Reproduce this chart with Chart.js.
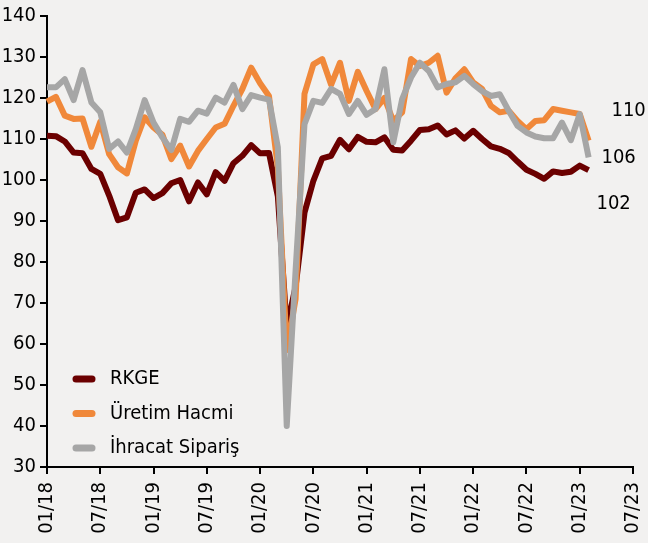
<!DOCTYPE html>
<html>
<head>
<meta charset="utf-8">
<script src="https://cdn.jsdelivr.net/npm/chart.js@4.4.1/dist/chart.umd.min.js"></script>
<style>
  body { margin: 0; background: #f2f1f0; }
  canvas { display: block; }
</style>
</head>
<body>
<canvas id="myChart" width="648" height="543"></canvas>
<script>
var seriesNames = ["RKGE", "Üretim Hacmi", "İhracat Sipariş"];
var seriesColors = ["#6b0000", "#f0883a", "#a6a6a6"];

// monthly values, 01/18 .. 02/23
var rkge = [110.8, 110.7, 109.4, 106.7, 106.5, 102.7, 101.5, 96.2, 90.2, 90.9, 96.9, 97.7,
  95.6, 96.8, 99.2, 100, 94.8, 99.4, 96.5, 101.9, 99.8, 104.1, 105.9, 108.5,
  106.5, 106.6, 96, 64, 74, 92, 99.8, 105.3, 105.9, 109.8, 107.5, 110.5,
  109.3, 109.2, 110.4, 107.4, 107.2, 109.6, 112.2, 112.4, 113.3, 111.1, 112.1, 110.1,
  112, 110, 108.2, 107.6, 106.6, 104.5, 102.5, 101.5, 100.3, 102.1, 101.7, 102,
  103.5, 102.4];
var uretim = [119.1, 120.3, 115.7, 114.9, 115, 108.1, 114.2, 106.3, 103.1, 101.6, 109.6, 115.3,
  112.8, 111, 105.1, 108.4, 103.3, 107.1, 110, 112.8, 113.7, 118.1, 122.2, 127.4,
  123.6, 120.5, 103, 58.5, 71, 121, 128.2, 129.5, 123.2, 128.6, 119.3, 126.4,
  121.7, 117.3, 120, 114.4, 116.5, 129.5, 127.8, 128.6, 130.3, 121.3, 124.8, 127,
  123.8, 122.2, 118.1, 116.5, 116.9, 114.4, 112.4, 114.4, 114.6, 117.3, 116.9, 116.5,
  116.1, 109.6];
var ihracat = [122.6, 122.6, 124.6, 119.5, 126.8, 118.9, 116.5, 107.6, 109.4, 106.7, 112.4, 119.5,
  114, 110.4, 107.3, 114.9, 114.2, 116.9, 116.2, 120.1, 118.9, 123.2, 117.3, 120.7,
  120.1, 119.6, 108, 40, 78, 113.6, 119.3, 118.8, 122.2, 121, 116.1, 119.3,
  115.9, 117.3, 127, 109.2, 119.7, 125, 128.6, 126.6, 122.6, 123.4, 123.8, 125.4,
  123.4, 121.7, 120.5, 120.9, 116.9, 113.2, 111.6, 110.6, 110.2, 110.2, 114, 109.7,
  116.1, 105.5];
var endLabels = ["102", "110", "106"];
var endOffsets = [[25, 34], [40, -30], [30, 0]];

var yTicks = { min: 30, max: 140, step: 10 };

var monthLabels = [];
for (let y = 18; y <= 23; y++) {
  for (let m = 1; m <= 12; m++) {
    if (y == 23 && m > 7) break;
    monthLabels.push((m < 10 ? "0" + m : "" + m) + "/" + y);
  }
}

var fontFam = "'DejaVu Sans Condensed', 'DejaVu Sans', sans-serif";

var extras = {
  id: "extras",
  afterDatasetsDraw(chart) {
    var ctx = chart.ctx, area = chart.chartArea;
    ctx.save();
    ctx.font = "20px " + fontFam;
    ctx.textBaseline = "middle";

    // legend inside the plot, bottom left
    seriesNames.forEach(function (name, i) {
      var y = area.bottom - 88 + i * 34.5;
      ctx.strokeStyle = seriesColors[i];
      ctx.lineWidth = 7;
      ctx.lineCap = "round";
      ctx.beginPath();
      ctx.moveTo(area.left + 29, y);
      ctx.lineTo(area.left + 45, y);
      ctx.stroke();
      ctx.fillStyle = "#000";
      ctx.textAlign = "left";
      ctx.fillText(name, area.left + 63, y);
    });

    // last value labels
    ctx.textAlign = "center";
    chart.data.datasets.forEach(function (ds, i) {
      var last = ds.data.length - 1;
      var px = chart.scales.x.getPixelForValue(last);
      var py = chart.scales.y.getPixelForValue(ds.data[last]);
      ctx.fillText(endLabels[i], px + endOffsets[i][0], py + endOffsets[i][1]);
    });
    ctx.restore();
  }
};

var axisStyle = {
  grid: { drawOnChartArea: false, color: "#000", lineWidth: 2, tickLength: 7 },
  border: { color: "#000", width: 2 }
};

new Chart("myChart", {
  type: "line",
  data: {
    labels: monthLabels,
    datasets: [
      { label: seriesNames[0], data: rkge, borderColor: seriesColors[0], order: 2 },
      { label: seriesNames[1], data: uretim, borderColor: seriesColors[1], order: 1 },
      { label: seriesNames[2], data: ihracat, borderColor: seriesColors[2], order: 0 }
    ]
  },
  options: {
    responsive: false,
    animation: false,
    layout: { padding: { top: 15, right: 15 } },
    elements: {
      line: { borderWidth: 6, tension: 0, fill: false, borderJoinStyle: "round" },
      point: { radius: 0 }
    },
    plugins: { legend: { display: false }, tooltip: { enabled: false } },
    scales: {
      x: {
        grid: axisStyle.grid,
        border: axisStyle.border,
        ticks: {
          autoSkip: false, maxRotation: 90, minRotation: 90, padding: 8,
          color: "#000", font: { family: fontFam, size: 20 },
          callback: function (v, i) { return i % 6 === 0 ? monthLabels[i] : null; }
        },
        afterFit: function (s) { s.height = 76; s.paddingRight = 0; s.paddingLeft = 0; }
      },
      y: {
        min: yTicks.min, max: yTicks.max,
        grid: axisStyle.grid,
        border: axisStyle.border,
        ticks: {
          stepSize: yTicks.step, padding: 4,
          color: "#000", font: { family: fontFam, size: 20 }
        },
        afterFit: function (s) { s.width = 47; }
      }
    }
  },
  plugins: [extras]
});
</script>
</body>
</html>
